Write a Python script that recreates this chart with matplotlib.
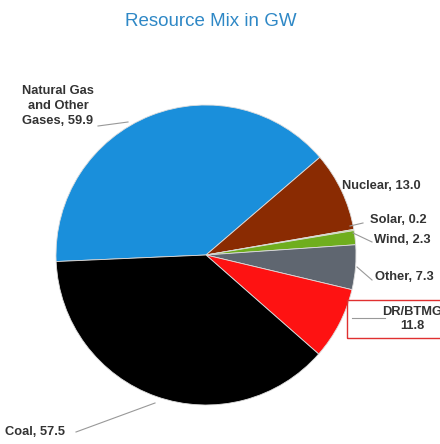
import matplotlib.pyplot as plt
from matplotlib.patches import Rectangle

# data
sources = ['Natural Gas\nand Other\nGases', 'Nuclear', 'Solar', 'Wind', 'Other', 'DR/BTMG', 'Coal']
gw = [59.9, 13.0, 0.2, 2.3, 7.3, 11.8, 57.5]
colors = ['#1a8fdb', '#8a2b02', '#a8d83a', '#6fae1e', '#5f6670', '#fe1212', '#000000']

H = 444
fig = plt.figure(figsize=(4.4, 4.44), dpi=100)
ax = fig.add_axes([0, 0, 1, 1])

ax.pie(gw, colors=colors, startangle=182.5, counterclock=False,
       center=(206, H - 255), radius=150,
       wedgeprops=dict(edgecolor='#dddddd', linewidth=0.6))
ax.set_xlim(0, 440)
ax.set_ylim(0, H)
ax.set_aspect('equal')
ax.axis('off')

fig.text(0.48, 1 - 22 / H, 'Resource Mix in GW', ha='center', va='center',
         fontsize=13.5, color='#2f88c6', family='Liberation Sans')

font = dict(fontsize=9.3, fontweight='bold', color='#333333', family='Liberation Sans')
line = dict(color='#999999', lw=0.8)

def lab(txt, x, y, ha='left', lx=None, ly=None, ls=1.05):
    ax.text(x, H - y, txt, ha=ha, va='center', linespacing=ls, **font)
    if lx is not None:
        ax.plot(lx, [H - v for v in ly], **line)

lab(f'{sources[0]}, {gw[0]}', 58, 106, ha='center', lx=[98, 128], ly=[126, 122], ls=1.35)
lab(f'{sources[1]}, {gw[1]:.1f}', 342, 186)
lab(f'{sources[2]}, {gw[2]}', 370, 220, lx=[363, 350], ly=[223, 226])
lab(f'{sources[3]}, {gw[3]}', 374, 240, lx=[372, 353], ly=[242, 233])
lab(f'{sources[4]}, {gw[4]}', 375, 277, lx=[372, 357], ly=[280, 267])
ax.add_patch(Rectangle((347, H - 338), 100, 38, fill=False, edgecolor='#e03030', lw=1))
ax.text(412, H - 312, f'{sources[5]}', ha='center', va='center', **font)
ax.text(412, H - 326, f'{gw[5]}', ha='center', va='center', **font)
ax.plot([352, 385], [H - 318, H - 318], **line)
lab(f'{sources[6]}, {gw[6]}', 5, 432, lx=[76, 155], ly=[432, 403])

fig.savefig('out.png', dpi=100)
